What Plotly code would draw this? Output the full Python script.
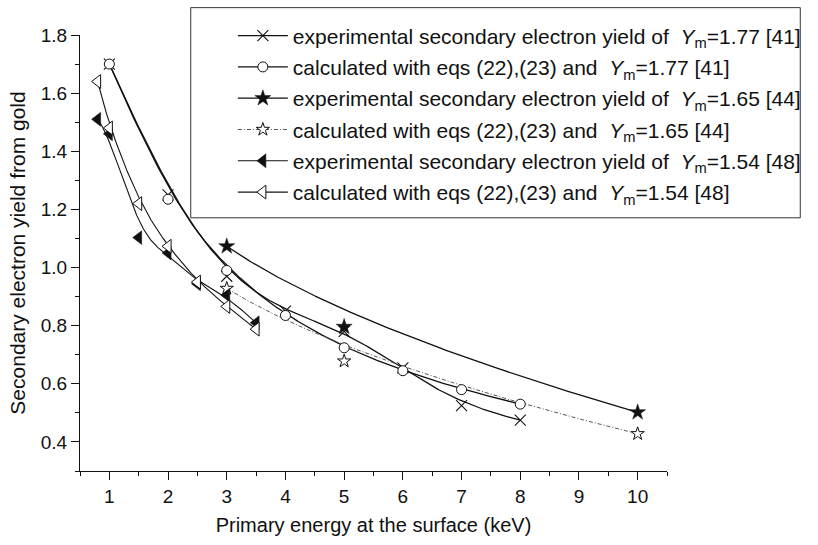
import numpy as np
import plotly.graph_objects as go

# Primary energy (keV) and secondary electron yield of gold
e_exp177 = [1, 2, 3, 4, 5, 6, 7, 8]
y_exp177 = [1.70, 1.25, 0.97, 0.85, 0.78, 0.655, 0.525, 0.475]

e_cal177 = [1, 2, 3, 4, 5, 6, 7, 8]
y_cal177 = [1.70, 1.235, 0.99, 0.835, 0.724, 0.645, 0.58, 0.53]

e_exp165 = [3, 5, 10]
y_exp165 = [1.073, 0.796, 0.502]

e_cal165 = [3, 5, 10]
y_cal165 = [0.928, 0.678, 0.428]

e_exp154 = [0.8, 1, 1.5, 2, 2.5, 3, 3.5]
y_exp154 = [1.51, 1.46, 1.103, 1.05, 0.944, 0.905, 0.81]

e_cal154 = [0.8, 1, 1.5, 2, 2.5, 3, 3.5]
y_cal154 = [1.64, 1.48, 1.22, 1.073, 0.95, 0.866, 0.788]

names = [
    "experimental secondary electron yield of  <i>Y</i><sub>m</sub>=1.77 [41]",
    "calculated with eqs (22),(23) and  <i>Y</i><sub>m</sub>=1.77 [41]",
    "experimental secondary electron yield of  <i>Y</i><sub>m</sub>=1.65 [44]",
    "calculated with eqs (22),(23) and  <i>Y</i><sub>m</sub>=1.65 [44]",
    "experimental secondary electron yield of  <i>Y</i><sub>m</sub>=1.54 [48]",
    "calculated with eqs (22),(23) and  <i>Y</i><sub>m</sub>=1.54 [48]",
]

FONT = "Liberation Sans, Arial, Helvetica, sans-serif"
INK = "#111111"


def bspline(xs, ys, samples=300):
    """Clamped uniform B-spline using the data points as control points."""
    P = np.column_stack([xs, ys]).astype(float)
    m = len(P)
    k = min(3, m - 1)
    knots = np.concatenate([np.zeros(k), np.linspace(0, 1, m - k + 1), np.ones(k)])
    t = np.linspace(0, 1, samples)
    N = np.zeros((samples, len(knots) - 1))
    for i in range(len(knots) - 1):
        N[:, i] = (knots[i] <= t) & (t < knots[i + 1])
    N[t >= 1.0, :] = 0
    N[t >= 1.0, m - 1] = 1
    for p in range(1, k + 1):
        Nn = np.zeros((samples, len(knots) - 1 - p))
        for i in range(len(knots) - 1 - p):
            d1 = knots[i + p] - knots[i]
            d2 = knots[i + p + 1] - knots[i + 1]
            term = np.zeros(samples)
            if d1 > 0:
                term += (t - knots[i]) / d1 * N[:, i]
            if d2 > 0:
                term += (knots[i + p + 1] - t) / d2 * N[:, i + 1]
            Nn[:, i] = term
        N = Nn
    C = N @ P
    return C[:, 0], C[:, 1]


series = [
    (e_exp177, y_exp177, dict(symbol="x-thin", size=11, color=INK, line=dict(color=INK, width=1.1)),
     dict(color=INK, width=1.3)),
    (e_cal177, y_cal177, dict(symbol="circle", size=10, color="white", line=dict(color=INK, width=1)),
     dict(color=INK, width=1.3)),
    (e_exp165, y_exp165, dict(symbol="star", size=12, color=INK, line=dict(color=INK, width=0.5)),
     dict(color=INK, width=1.3)),
    (e_cal165, y_cal165, dict(symbol="star", size=10, color="white", line=dict(color=INK, width=1)),
     dict(color="#555555", width=1, dash="4px,2px,1px,2px")),
    (e_exp154, y_exp154, dict(symbol="triangle-left", size=12, color=INK, line=dict(color=INK, width=0.5)),
     dict(color=INK, width=1.1)),
    (e_cal154, y_cal154, dict(symbol="triangle-left", size=12, color="white", line=dict(color=INK, width=1)),
     dict(color=INK, width=1.1)),
]

fig = go.Figure()

# smoothed connecting curves
for xs, ys, mk, ln in series:
    cx, cy = bspline(xs, ys)
    fig.add_trace(go.Scatter(x=cx, y=cy, mode="lines", line=ln, showlegend=False, hoverinfo="skip"))

# data symbols
for xs, ys, mk, ln in series:
    fig.add_trace(go.Scatter(x=xs, y=ys, mode="markers", marker=mk, showlegend=False))

# legend keys
for i, ((xs, ys, mk, ln), nm) in enumerate(zip(series, names)):
    fig.add_trace(go.Scatter(x=[None], y=[None], mode="lines+markers", marker=mk, line=ln, name=nm,
                             legendgroup=f"g{i}"))

L, R, T, B = 80, 139, 35, 64
W, H = 818, 545
pw, ph = W - L - R, H - T - B


def px2paper(px, py):
    return (px - L) / pw, (H - B - py) / ph


bx0, by0 = px2paper(193, 222)
bx1, by1 = px2paper(815, 7)
fig.add_shape(type="rect", xref="paper", yref="paper", x0=bx0, y0=by0, x1=bx1, y1=by1,
              line=dict(color="#333333", width=1), fillcolor="white", layer="below")

lx, ly = px2paper(236, 15)

axis_common = dict(
    showline=True, linecolor=INK, linewidth=1.3, mirror=False,
    showgrid=False, zeroline=False,
    ticks="outside", ticklen=8, tickwidth=1.3, tickcolor=INK,
    tickfont=dict(family=FONT, size=19, color=INK),
)

fig.update_layout(
    width=W, height=H, autosize=False,
    margin=dict(l=L, r=R, t=T, b=B, pad=0),
    paper_bgcolor="white", plot_bgcolor="white",
    font=dict(family=FONT, color=INK),
    xaxis=dict(
        range=[0.5, 10.5], tickmode="linear", tick0=0, dtick=1,
        minor=dict(tick0=0.5, dtick=0.5, ticks="outside", ticklen=4, tickwidth=1.3, tickcolor=INK),
        title=dict(text="Primary energy at the surface (keV)", font=dict(family=FONT, size=20, color=INK),
                   standoff=12),
        **axis_common,
    ),
    yaxis=dict(
        range=[0.3, 1.8], tickmode="linear", tick0=0.4, dtick=0.2, tickformat=".1f",
        minor=dict(tick0=0.3, dtick=0.1, ticks="outside", ticklen=4, tickwidth=1.3, tickcolor=INK),
        title=dict(text="Secondary electron yield from gold", font=dict(family=FONT, size=21, color=INK),
                   standoff=9),
        **axis_common,
    ),
    legend=dict(
        x=lx, y=ly, xanchor="left", yanchor="top",
        bgcolor="rgba(0,0,0,0)", borderwidth=0,
        font=dict(family=FONT, size=21, color=INK),
        itemwidth=50, tracegroupgap=1,
    ),
    showlegend=True,
)

fig.write_html("out.html")
